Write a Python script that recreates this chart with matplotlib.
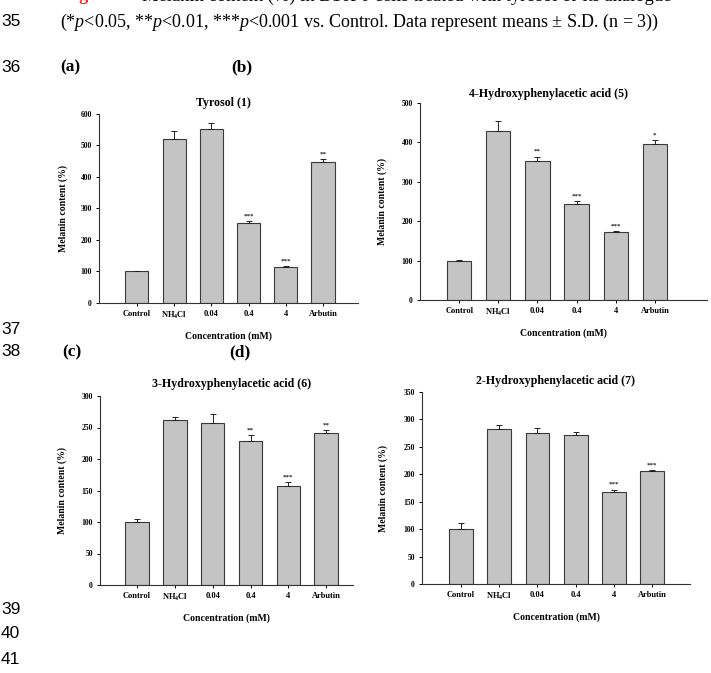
import numpy as np
import matplotlib
matplotlib.use('Agg')
import matplotlib.pyplot as plt

# ---- Data ----
categories = ['Control', r'NH$_\mathbf{4}$Cl', '0.04', '0.4', '4', 'Arbutin']

tyrosol_mean = [100, 520, 553, 253, 113, 447]
tyrosol_sd = [3, 25, 17, 7, 3, 9]
tyrosol_sig = ['', '', '', '***', '***', '**']

hpa4_mean = [100, 430, 354, 243, 172, 396]
hpa4_sd = [1, 25, 10, 8, 3, 10]
hpa4_sig = ['', '', '**', '***', '***', '*']

hpa3_mean = [100, 262, 257, 228, 157, 242]
hpa3_sd = [4, 5, 14, 10, 6, 4]
hpa3_sig = ['', '', '', '**', '***', '**']

hpa2_mean = [100, 283, 275, 271, 168, 206]
hpa2_sd = [11, 7, 10, 6, 4, 2]
hpa2_sig = ['', '', '', '', '***', '***']

# ---- Style ----
plt.rcParams['font.family'] = ['Liberation Serif', 'DejaVu Serif']
plt.rcParams['mathtext.fontset'] = 'custom'
plt.rcParams['mathtext.rm'] = 'Liberation Serif'
plt.rcParams['mathtext.it'] = 'Liberation Serif:italic'
plt.rcParams['mathtext.bf'] = 'Liberation Serif:bold'

W, H = 711, 673
fig = plt.figure(figsize=(W / 100, H / 100), dpi=100)


def add_px_axes(l, t, r, b):
    return fig.add_axes([l / W, 1 - b / H, (r - l) / W, (b - t) / H])


def bar_panel(ax, means, sds, sig, title, ymax, ystep, xlim, title_x, title_pad, ylab_dx):
    x = np.arange(len(categories))
    ax.bar(x, means, width=0.62, color='#c4c4c4', edgecolor='#3a3a3a', linewidth=0.8, zorder=2)
    ax.errorbar(x, means, yerr=[np.zeros(len(sds)), sds], fmt='none', ecolor='#222222',
                elinewidth=0.7, capsize=2.5, capthick=0.7, zorder=3)
    for xi, m, s, st in zip(x, means, sds, sig):
        if st:
            ax.annotate(st, (xi, m + s), xytext=(0, 2), textcoords='offset points',
                        ha='center', va='bottom', fontsize=5, fontweight='bold', color='#222222')
    ax.set_xlim(*xlim)
    ax.set_ylim(0, ymax)
    ax.set_yticks(np.arange(0, ymax + 1, ystep))
    ax.set_xticks(x)
    ax.set_xticklabels(categories, fontsize=6, fontweight='bold')
    for lab in ax.get_yticklabels():
        lab.set_fontweight('bold')
    ax.tick_params(axis='y', labelsize=5.5, length=2.2, width=0.7, pad=3)
    ax.tick_params(axis='x', length=2.2, width=0.7, pad=3)
    for side in ['top', 'right']:
        ax.spines[side].set_visible(False)
    for side in ['left', 'bottom']:
        ax.spines[side].set_linewidth(0.8)
        ax.spines[side].set_color('#333333')
    ax.set_title(title, fontsize=8.6, fontweight='bold', x=title_x, pad=title_pad)
    ax.set_xlabel('Concentration (mM)', fontsize=7, fontweight='bold', labelpad=7)
    ax.set_ylabel('Melanin content (%)', fontsize=7, fontweight='bold')
    ax.yaxis.set_label_coords(ylab_dx, 0.5)


ax_a = add_px_axes(99, 114, 358, 303)
bar_panel(ax_a, tyrosol_mean, tyrosol_sd, tyrosol_sig, 'Tyrosol (1)', 600, 100,
          (-1.02, 5.94), 0.48, 6, -0.12)

ax_b = add_px_axes(420, 103, 707, 300)
bar_panel(ax_b, hpa4_mean, hpa4_sd, hpa4_sig, '4-Hydroxyphenylacetic acid (5)', 500, 100,
          (-1.0, 6.33), 0.446, 4, -0.115)

ax_c = add_px_axes(100, 396, 353, 585)
bar_panel(ax_c, hpa3_mean, hpa3_sd, hpa3_sig, '3-Hydroxyphenylacetic acid (6)', 300, 50,
          (-0.98, 5.71), 0.52, 6.5, -0.13)

ax_d = add_px_axes(422, 392, 690, 584)
bar_panel(ax_d, hpa2_mean, hpa2_sd, hpa2_sig, '2-Hydroxyphenylacetic acid (7)', 350, 50,
          (-1.02, 5.99), 0.50, 6, -0.127)

# ---- Page text around the figure ----
num_font = ['Liberation Sans Narrow', 'Liberation Sans']
for num, yp in [('34', -4), ('35', 22), ('36', 67), ('37', 329), ('38', 352),
                ('39', 610), ('40', 633), ('41', 659)]:
    fig.text(1 / W, 1 - yp / H, num, fontsize=12.5, family=num_font,
             va='center', ha='left')

fig.text(63 / W, 1 + 4 / H, 'Figure 4.', fontsize=13, fontweight='bold',
         color='#e02020', va='center', ha='left')
fig.text(142 / W, 1 + 4 / H,
         'Melanin content (%) in B16F0 cells treated with tyrosol or its analogue',
         fontsize=13.3, va='center', ha='left')
fig.text(60 / W, 1 - 22 / H,
         r'(*$\it{p}$<0.05, **$\it{p}$<0.01, ***$\it{p}$<0.001 vs. Control. '
         'Data represent means \u00b1 S.D. (n = 3))',
         fontsize=13, va='center', ha='left')

for lab, xp, yp in [('(a)', 60, 67), ('(b)', 231, 67), ('(c)', 62, 352), ('(d)', 229, 352)]:
    fig.text(xp / W, 1 - yp / H, lab, fontsize=12.5, fontweight='bold', va='center', ha='left')

fig.savefig('out.png', dpi=100)
